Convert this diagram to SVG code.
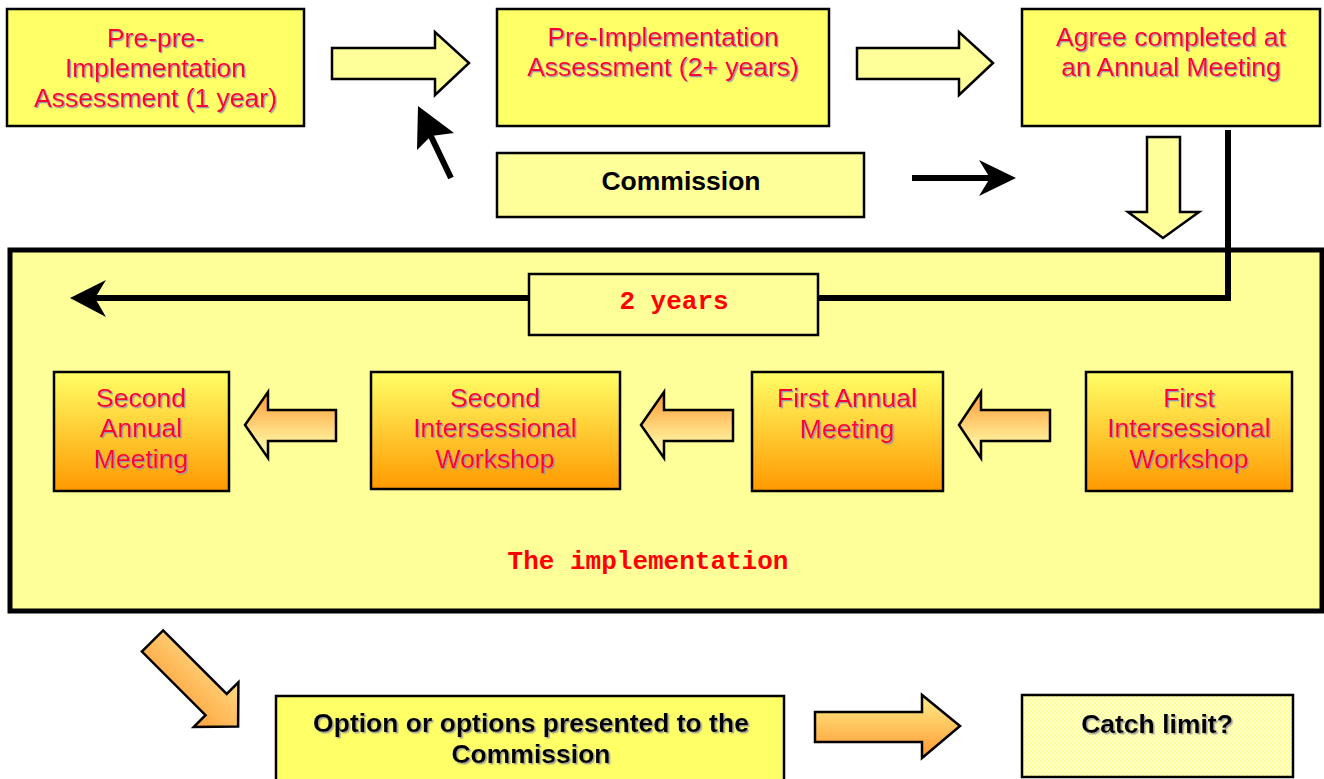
<svg xmlns="http://www.w3.org/2000/svg" width="1324" height="779" viewBox="0 0 1324 779">
<defs>
<linearGradient id="gBox" x1="0" y1="0" x2="0" y2="1"><stop offset="0" stop-color="#ffff66"/><stop offset="1" stop-color="#ff9900"/></linearGradient>
<linearGradient id="gArrL" x1="0" y1="0" x2="0" y2="1"><stop offset="0" stop-color="#ff9933"/><stop offset="0.75" stop-color="#ffee99"/><stop offset="1" stop-color="#ffeeaa"/></linearGradient>
<linearGradient id="gArrR" x1="0" y1="0" x2="0" y2="1"><stop offset="0" stop-color="#ffee88"/><stop offset="1" stop-color="#ff9933"/></linearGradient>
<linearGradient id="gArrD" x1="0" y1="1" x2="1" y2="0"><stop offset="0.2" stop-color="#ff9933"/><stop offset="0.9" stop-color="#ffee99"/></linearGradient>
<pattern id="pChk" width="4" height="4" patternUnits="userSpaceOnUse"><rect width="4" height="4" fill="#ffffcc"/><rect width="2" height="2" fill="#ffff99"/><rect x="2" y="2" width="2" height="2" fill="#ffff99"/></pattern>
<filter id="sh" x="-5%" y="-20%" width="110%" height="140%"><feDropShadow dx="1.3" dy="1.3" stdDeviation="0.3" flood-color="#8f8fb0" flood-opacity="0.9"/></filter>
<filter id="shk" x="-5%" y="-20%" width="110%" height="140%"><feDropShadow dx="1.5" dy="1.5" stdDeviation="0.3" flood-color="#999999" flood-opacity="0.9"/></filter>
</defs>
<style>
.box{fill:#ffff66;stroke:#000;stroke-width:2.5}
.pale{fill:#ffff99;stroke:#000;stroke-width:2.5}
.obox{fill:url(#gBox);stroke:#000;stroke-width:2.5}
.blk{fill:#ffff99;stroke:#000;stroke-width:2.5;stroke-linejoin:miter}
.ol{fill:url(#gArrL);stroke:#000;stroke-width:2.5}
.rt{font-family:"Liberation Sans",Arial,sans-serif;font-size:26.5px;fill:#ff0033;text-anchor:middle;filter:url(#sh)}
.bt{font-family:"Liberation Sans",Arial,sans-serif;font-size:26.5px;font-weight:bold;fill:#000;text-anchor:middle}
.ct{font-family:"Liberation Mono","Courier New",monospace;font-size:26px;font-weight:bold;fill:#ff0000;text-anchor:middle}
.ln{fill:none;stroke:#000;stroke-width:6}
</style>
<rect width="1324" height="779" fill="#fff"/>

<g id="implementation">
<rect x="10" y="250" width="1312" height="361" fill="#ffff99" stroke="#000" stroke-width="5"/>
<text class="ct" x="648" y="569">The implementation</text>
</g>

<g id="pre-pre">
<rect class="box" x="7" y="9" width="297" height="117"/>
<text class="rt" x="155.5" y="47">Pre-pre-</text>
<text class="rt" x="155.5" y="77">Implementation</text>
<text class="rt" x="155.5" y="107">Assessment (1 year)</text>
</g>
<g id="pre-impl">
<rect class="box" x="497" y="9" width="332" height="117"/>
<text class="rt" x="663" y="46">Pre-Implementation</text>
<text class="rt" x="663" y="76">Assessment (2+ years)</text>
</g>
<g id="agree">
<rect class="box" x="1022" y="9" width="298" height="117"/>
<text class="rt" x="1171" y="46">Agree completed at</text>
<text class="rt" x="1171" y="76">an Annual Meeting</text>
</g>
<g id="commission">
<rect class="pale" x="497" y="153" width="367" height="64"/>
<text class="bt" x="681" y="190">Commission</text>
</g>
<g id="two-years">
<rect class="pale" x="529" y="274" width="289" height="61"/>
<text class="ct" x="674" y="309">2 years</text>
</g>
<g id="second-annual">
<rect class="obox" x="54" y="372" width="175" height="119"/>
<text class="rt" x="141" y="407">Second</text>
<text class="rt" x="141" y="437">Annual</text>
<text class="rt" x="141" y="468">Meeting</text>
</g>
<g id="second-inter">
<rect class="obox" x="371" y="372" width="249" height="117"/>
<text class="rt" x="495" y="407">Second</text>
<text class="rt" x="495" y="437">Intersessional</text>
<text class="rt" x="495" y="468">Workshop</text>
</g>
<g id="first-annual">
<rect class="obox" x="752" y="372" width="191" height="119"/>
<text class="rt" x="847" y="407">First Annual</text>
<text class="rt" x="847" y="438">Meeting</text>
</g>
<g id="first-inter">
<rect class="obox" x="1086" y="372" width="206" height="119"/>
<text class="rt" x="1189" y="407">First</text>
<text class="rt" x="1189" y="437">Intersessional</text>
<text class="rt" x="1189" y="468">Workshop</text>
</g>
<g id="options">
<rect class="box" x="276" y="696" width="508" height="90"/>
<text class="bt" x="531" y="732" filter="url(#shk)">Option or options presented to the</text>
<text class="bt" x="531" y="763" filter="url(#shk)">Commission</text>
</g>
<g id="catch-limit">
<rect x="1022" y="695" width="271" height="82" fill="url(#pChk)" stroke="#000" stroke-width="2.5"/>
<text class="bt" x="1157" y="733" filter="url(#shk)">Catch limit?</text>
</g>

<g id="connectors">
<polygon class="blk" points="332,48 435,48 435,32 469,63 435,95 435,79 332,79"/>
<polygon class="blk" points="857,48 959,48 959,32 993,63 959,95 959,79 857,79"/>
<polygon class="blk" points="1147,137 1180,137 1180,212 1199,212 1163,238 1128,212 1147,212"/>
<line class="ln" x1="451" y1="178" x2="428" y2="130" stroke-width="7"/>
<path d="M418,106 L454,133 L431,136 L417,150 Z" fill="#000"/>
<line class="ln" x1="912" y1="178" x2="995" y2="178"/>
<path d="M1016,178 L979,160 L990,178 L979,196 Z" fill="#000"/>
<polyline class="ln" points="1228,130 1228,298 818,298"/>
<line class="ln" x1="529" y1="298" x2="92" y2="298"/>
<path d="M70,298 L106,280 L95,298 L106,317 Z" fill="#000"/>
<polygon class="ol" points="245,425 268,392 268,410 336,410 336,441 268,441 268,458"/>
<polygon class="ol" points="641,425 664,392 664,410 733,410 733,441 664,441 664,458"/>
<polygon class="ol" points="959,425 981,392 981,410 1050,410 1050,441 981,441 981,458"/>
<polygon points="163.1,630.4 226.7,694 238.4,682.3 238.1,726.6 193.8,726.9 205.5,715.2 141.9,651.6" fill="url(#gArrD)" stroke="#000" stroke-width="2.5"/>
<polygon points="815,712 922,712 922,695 960,726 922,758 922,742 815,742" fill="url(#gArrR)" stroke="#000" stroke-width="2.5"/>
</g>
</svg>
